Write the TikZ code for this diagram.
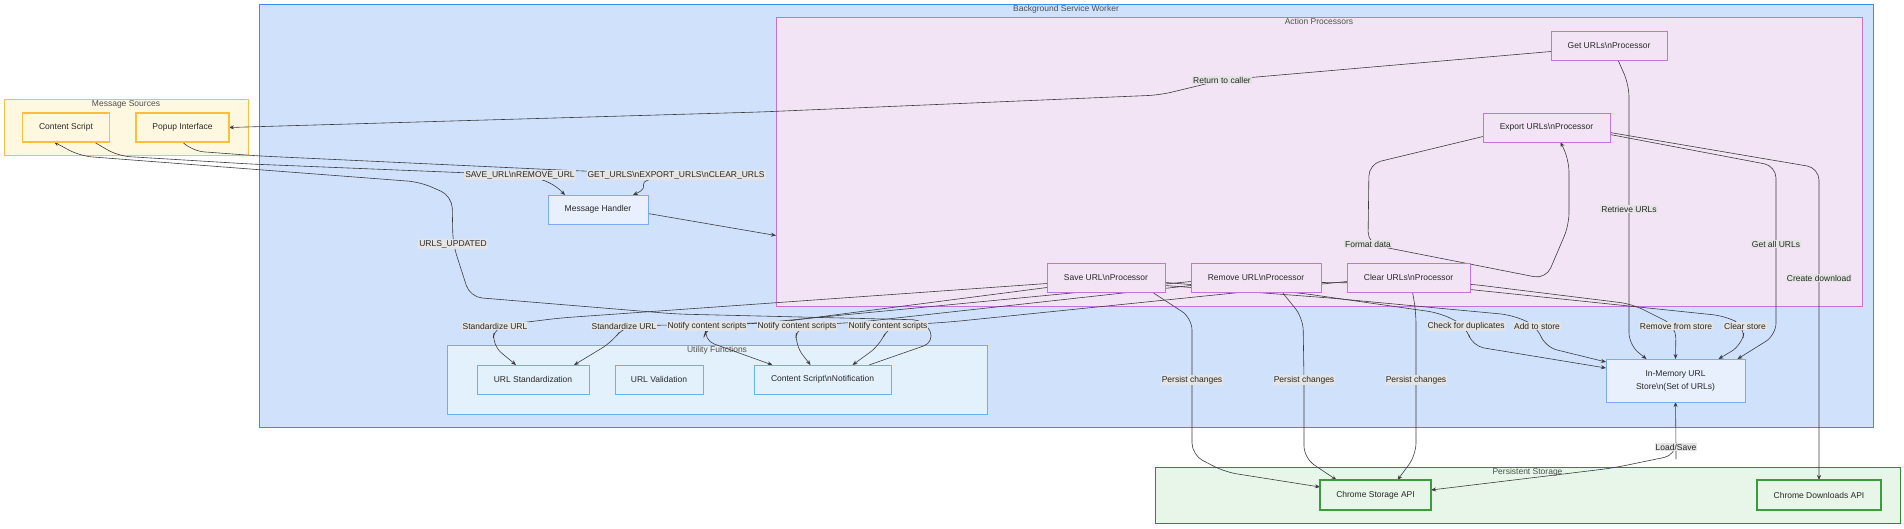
\documentclass[tikz,border=0pt]{standalone}
\usepackage{fontspec}
\setmainfont{Liberation Sans}
\usetikzlibrary{arrows.meta,calc}
\pgfdeclarelayer{bg}
\pgfdeclarelayer{edges}
\pgfsetlayers{bg,edges,main}
\definecolor{txt}{RGB}{40,40,40}
\definecolor{ctxt}{RGB}{80,80,80}
\definecolor{edge}{RGB}{60,60,60}
\definecolor{lblfill}{RGB}{228,228,228}
\definecolor{bswfill}{RGB}{208,225,252}
\definecolor{bswline}{RGB}{60,140,240}
\definecolor{apfill}{RGB}{243,228,245}
\definecolor{apline}{RGB}{195,115,222}
\definecolor{msfill}{RGB}{255,248,225}
\definecolor{msline}{RGB}{252,190,60}
\definecolor{ufill}{RGB}{227,241,253}
\definecolor{uline}{RGB}{100,180,245}
\definecolor{corefill}{RGB}{232,240,254}
\definecolor{coreline}{RGB}{120,170,245}
\definecolor{psfill}{RGB}{232,245,233}
\definecolor{psline}{RGB}{46,140,46}
\definecolor{chline}{RGB}{60,155,60}
\begin{document}
\begin{tikzpicture}[x=1pt,y=-1pt,inner sep=0pt,outer sep=0pt,
font=\fontsize{8.5}{10}\selectfont,
box/.style={draw,rectangle,minimum height=29pt,text=txt,line width=0.8pt},
src/.style={box,fill=msfill,draw=msline,line width=1.1pt},
proc/.style={box,fill=apfill,draw=apline},
core/.style={box,fill=corefill,draw=coreline},
util/.style={box,fill=ufill,draw=uline},
chrome/.style={box,fill=psfill,draw=chline,line width=1.2pt,minimum height=30pt},
cluster/.style={draw,rectangle,line width=0.9pt},
ctitle/.style={text=ctxt,below=1.5pt},
elabel/.style={fill=lblfill,inner sep=1pt,text=txt},
link/.style={draw=edge,line width=0.6pt,rounded corners=12pt},
>={Stealth[length=5pt,width=4pt]}]
% subgraphs
\begin{pgfonlayer}{bg}
\fill[white,use as bounding box] (0,0) rectangle (1904,528);
\draw (1066,215.5) node[cluster,fill=bswfill,draw=bswline,minimum width=1614pt,minimum height=423pt] (bsw) {};
\draw (1319,161.5) node[cluster,fill=apfill,draw=apline,minimum width=1086pt,minimum height=289pt] (ap) {};
\draw (126,127) node[cluster,fill=msfill,draw=msline,minimum width=244pt,minimum height=56pt] (ms) {};
\draw (717,379.5) node[cluster,fill=ufill,draw=uline,minimum width=540pt,minimum height=69pt] (uf) {};
\draw (1527.5,495) node[cluster,fill=psfill,draw=psline,minimum width=745pt,minimum height=56pt] (ps) {};
\node[ctitle] at (bsw.north) {Background Service Worker};
\node[ctitle] at (ap.north) {Action Processors};
\node[ctitle] at (ms.north) {Message Sources};
\node[ctitle] at (uf.north) {Utility Functions};
\node[ctitle] at (ps.north) {Persistent Storage};
\end{pgfonlayer}
% nodes
\draw (66,127.5) node[src,minimum width=87pt] (cs) {Content Script};
\draw (182.5,127.5) node[src,minimum width=93pt] (pop) {Popup Interface};
\draw (598,209.5) node[core,minimum width=100pt] (mh) {Message Handler};
\draw (1609,45.5) node[proc,minimum width=116pt] (getp) {Get URLs\textbackslash nProcessor};
\draw (1546.5,127.5) node[proc,minimum width=127pt] (expp) {Export URLs\textbackslash nProcessor};
\draw (1106,277.5) node[proc,minimum width=118pt] (savep) {Save URL\textbackslash nProcessor};
\draw (1256,277.5) node[proc,minimum width=130pt] (remp) {Remove URL\textbackslash nProcessor};
\draw (1408.5,277.5) node[proc,minimum width=123pt] (clrp) {Clear URLs\textbackslash nProcessor};
\draw (533,379.5) node[util,minimum width=112pt] (ustd) {URL Standardization};
\draw (659,379.5) node[util,minimum width=88pt] (uval) {URL Validation};
\draw (822.5,379.5) node[util,minimum width=137pt] (csn) {Content Script\textbackslash nNotification};
\draw (1675.5,380.5) node[core,minimum width=139pt,minimum height=43pt,align=center] (mem) {In-Memory URL\\[3pt]Store\textbackslash n(Set of URLs)};
\draw (1375.5,495) node[chrome,minimum width=111pt] (csapi) {Chrome Storage API};
\draw (1819,495) node[chrome,minimum width=124pt] (cdapi) {Chrome Downloads API};
% edge labels
\draw (520,175) node[elabel] (lsave) {SAVE\_URL\textbackslash nREMOVE\_URL};
\draw (676,175) node[elabel] (lget) {GET\_URLS\textbackslash nEXPORT\_URLS\textbackslash nCLEAR\_URLS};
\draw (453,244) node[elabel] (lupd) {URLS\_UPDATED};
\draw (1222,80) node[elabel] (lret) {Return to caller};
\draw (1368,244) node[elabel] (lfmt) {Format data};
\draw (1629,209) node[elabel] (lretr) {Retrieve URLs};
\draw (1776,244) node[elabel] (lall) {Get all URLs};
\draw (1819,278) node[elabel] (ldl) {Create download};
\draw (1466,326) node[elabel] (ldup) {Check for duplicates};
\draw (1537,326) node[elabel] (ladd) {Add to store};
\draw (1676,326) node[elabel] (lrem) {Remove from store};
\draw (1745,326) node[elabel] (lclr) {Clear store};
\draw (1192,380) node[elabel] (lp1) {Persist changes};
\draw (1304,380) node[elabel] (lp2) {Persist changes};
\draw (1416,380) node[elabel] (lp3) {Persist changes};
\draw (1676,447) node[elabel] (lload) {Load/Save};
\draw (495,326) node[elabel] (ls1) {Standardize URL};
\draw (624,326) node[elabel] (ls2) {Standardize URL};
\draw (707,326) node[elabel] (ln1) {Notify content scripts};
\draw (797,326) node[elabel] (ln2) {Notify content scripts};
\draw (888,326) node[elabel] (ln3) {Notify content scripts};
% connectors
\begin{pgfonlayer}{edges}
\draw[link,->] ($(cs.south)+(28,0)$) -- (118,156) -- (250,164) -- (lsave.center) -- (552,182) -- ($(mh.north)+(-33,0)$);
\draw[link,->] (pop.south) -- (192,151) -- (260,156) -- (560,170) -- (lget.center) .. controls (628,182) and (655,185) .. ($(mh.north)+(35,0)$);
\draw[link,->] ($(mh.east)+(0,4)$) -- ($(ap.west)+(0,74)$);
\draw[link,->] ($(getp.west)+(0,6)$) -- (lret.center) -- (1160,95) -- (760,112) -- (pop.east);
\draw[link,->] ($(savep.west)+(0,6)$) -- (560,318) -- (ls1.center) -- (492,345) -- ($(ustd.north)+(-17,0)$);
\draw[link,->] ($(remp.west)+(0,4)$) -- (760,323) -- (ls2.center) -- (612,342) -- ($(ustd.north)+(41,0)$);
\draw[link,->] ($(savep.west)+(0,10)$) -- (780,322) -- (ln1.center) -- (703,340) -- ($(csn.north)+(-50,0)$);
\draw[link,->] ($(remp.west)+(0,8)$) -- (860,322) -- (ln2.center) -- (795,345) -- ($(csn.north)+(-12,0)$);
\draw[link,->] ($(clrp.west)+(0,4)$) -- (950,322) -- (ln3.center) -- (880,345) -- ($(csn.north)+(30,0)$);
\draw[link,->] ($(csn.north east)+(-22,0)$) -- (935,342) -- (925,320) -- (676,314) -- (470,297) -- (lupd.center) -- (452,196) -- (420,182) -- (80,156) -- ($(cs.south)+(-12,0)$);
\draw[link,->] ($(savep.east)+(0,5)$) -- (1300,293) -- (1440,313) -- (ldup.center) -- (1472,346) -- ($(mem.west)+(0,-12.5)$);
\draw[link,->] ($(savep.east)+(0,8)$) -- (1330,298) -- (1512,315) -- (ladd.center) -- (1545,347) -- ($(mem.west)+(0,-18.5)$);
\draw[link,->] ($(remp.east)+(0,5)$) -- (1470,284) -- (1632,304) -- (lrem.center) -- (mem.north);
\draw[link,->] ($(clrp.east)+(0,12)$) -- (1725,316) -- (lclr.center) -- (1742,345) -- ($(mem.north)+(43,0)$);
\draw[link,->] ($(getp.south)+(9,0)$) -- (1629,85) -- (lretr.center) -- (1629,345) -- ($(mem.north)+(-29,0)$);
\draw[link,->] ($(expp.east)+(0,7)$) -- (1776,166) -- (lall.center) -- (1776,335) -- ($(mem.north)+(62,0)$);
\draw[link,->] ($(expp.east)+(0,5)$) -- (1819,168) -- (ldl.center) -- (cdapi.north);
\draw[link,->] ($(expp.west)+(0,9)$) -- (1369,164) -- (lfmt.center) -- (1546,279) -- (1569,225) -- (1569,160) -- ($(expp.south)+(14,0)$);
\draw[link,->] ($(savep.south)+(46,0)$) -- (1192,318) -- (lp1.center) -- (1192,455) -- (1225,472) -- ($(csapi.west)+(0,-8)$);
\draw[link,->] ($(remp.south)+(26,0)$) -- (1303,318) -- (lp2.center) -- (1304,458) -- ($(csapi.north)+(-39,0)$);
\draw[link,->] ($(clrp.south)+(4,0)$) -- (1416,312) -- (lp3.center) -- (1416,455) -- ($(csapi.north)+(22,0)$);
\draw[link,<->] (mem.south) -- (lload.center) -- (1676,455) -- (1613,468) -- ($(csapi.east)+(0,-5)$);
\end{pgfonlayer}
\end{tikzpicture}
\end{document}
